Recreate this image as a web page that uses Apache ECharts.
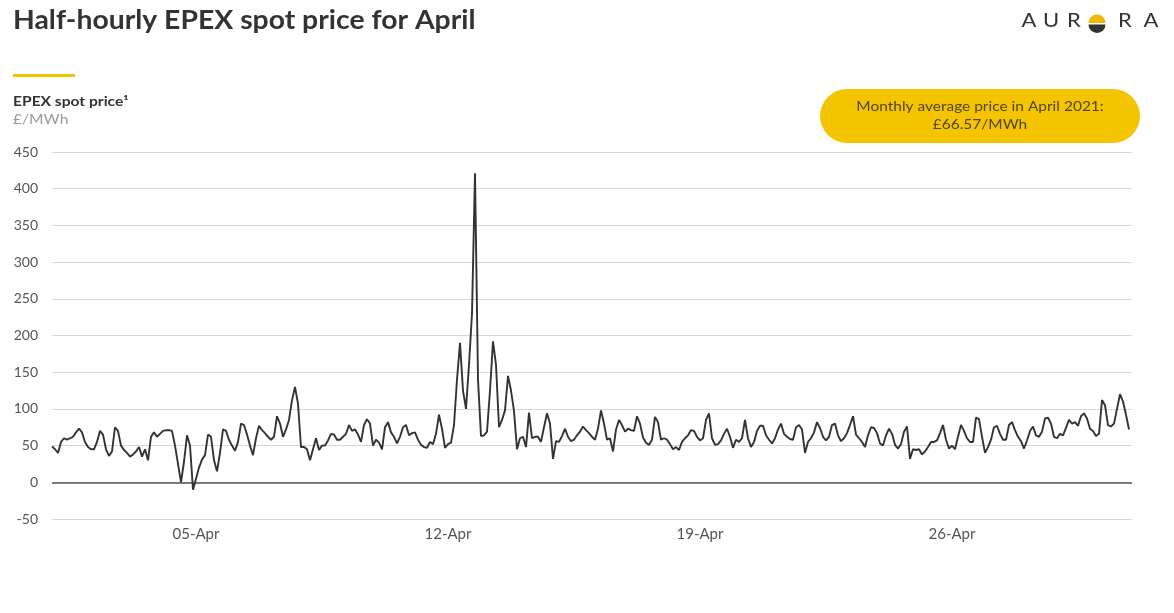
<!DOCTYPE html>
<html>
<head>
<meta charset="utf-8">
<script src="https://cdn.jsdelivr.net/npm/echarts@6/dist/echarts.min.js"></script>
<style>
  html, body { margin: 0; padding: 0; background: #ffffff; }
  #chart { width: 1174px; height: 613px; }
</style>
</head>
<body>
<div id="chart"></div>
<script>
// Half-hourly EPEX spot price, April 2021, sampled every 2 hours (£/MWh).
// x is measured in hours from 1 April 00:00.
const stepHours = 2;
const monthHours = 30 * 24;

// 1–7 April
const week1 = [
  49,45,40,55,60,58,60,62,68,73,68,55,
  48,45,45,55,70,65,45,36,42,75,70,50,
  44,40,35,38,42,48,35,45,30,62,68,62,
  66,70,71,71,70,50,25,0,28,64,50,-10,
  5,20,31,37,65,62,30,15,40,72,70,58,
  50,43,55,80,78,65,50,37,60,77,71,67,
  62,58,62,90,80,62,72,85,112,130,107,48
];
// 8–14 April
const week2 = [
  48,45,30,45,60,44,50,50,57,66,65,58,
  58,62,66,78,70,72,65,55,78,86,80,50,
  58,54,45,75,82,68,62,53,62,75,78,64,
  67,68,58,51,48,47,55,52,66,92,73,47,
  52,54,78,140,190,125,100,160,230,421,140,63,
  64,69,125,192,160,75,85,98,145,125,97,45,
  60,62,48,95,60,62,62,55,75,94,80,32
];
// 15–21 April
const week3 = [
  56,55,63,73,62,56,58,64,69,76,71,67,
  62,58,73,98,80,58,60,42,72,85,78,69,
  73,71,70,90,80,61,54,51,58,89,82,58,
  60,58,52,45,48,44,55,60,64,71,70,62,
  57,60,85,94,60,51,52,57,66,73,62,47,
  58,55,60,85,60,48,55,70,77,77,64,58,
  53,60,72,80,66,62,59,58,75,78,72,40
];
// 22–28 April
const week4 = [
  55,60,68,82,74,62,57,62,78,80,64,56,
  60,67,78,90,65,60,55,48,64,75,74,67,
  53,50,64,73,66,51,46,52,69,76,32,45,
  44,45,38,42,48,55,55,57,67,78,58,46,
  50,45,62,78,70,60,55,55,88,86,62,40,
  48,58,75,77,66,58,58,78,82,71,62,56,
  46,57,70,76,64,62,69,87,88,80,62,60
];
// 29–30 April
const week5 = [
  66,64,74,85,80,82,77,90,94,87,73,70,
  63,66,112,105,78,76,80,100,120,110,92,72
];

const tickDays = [5, 12, 19, 26];
const tickLabels = ['05-Apr', '12-Apr', '19-Apr', '26-Apr'];
const yTicks = { min: -50, max: 450, step: 50 };

const prices = [].concat(week1, week2, week3, week4, week5);
const points = prices.map((v, i) => [i * stepHours, v]);
const tickHours = tickDays.map(d => (d - 1) * 24);

const FONT = 'Lato, "Noto Sans", sans-serif';
const INK = '#333333';
const chart = echarts.init(document.getElementById('chart'), null, { renderer: 'canvas' });

function letter(ch, cx) {
  return { type: 'text', x: cx, y: 21, scaleX: 1.1, style: {
    text: ch, font: '20px ' + FONT, fill: INK, align: 'center', verticalAlign: 'middle' } };
}

chart.setOption({
  backgroundColor: '#ffffff',
  animation: false,
  textStyle: { fontFamily: FONT },
  grid: { left: 52, right: 42, top: 152, bottom: 94, containLabel: false },
  xAxis: {
    type: 'value',
    min: 0,
    max: monthHours,
    axisLine: { show: false },
    axisTick: { show: false },
    splitLine: { show: false },
    axisLabel: {
      customValues: tickHours,
      color: '#555555',
      fontSize: 15,
      fontFamily: FONT,
      margin: 8,
      formatter: v => {
        const k = tickHours.indexOf(v);
        return k >= 0 ? tickLabels[k] : '';
      }
    }
  },
  yAxis: {
    type: 'value',
    min: yTicks.min,
    max: yTicks.max,
    interval: yTicks.step,
    axisLine: { show: false },
    axisTick: { show: false },
    axisLabel: { color: '#555555', fontSize: 14, fontFamily: FONT, margin: 14 },
    splitLine: { lineStyle: { color: '#d6d6d6', width: 1 } }
  },
  series: [{
    type: 'line',
    data: points,
    showSymbol: false,
    lineStyle: { color: INK, width: 1.9 },
    z: 3,
    markLine: {
      silent: true,
      symbol: 'none',
      label: { show: false },
      lineStyle: { color: '#555555', width: 1.6, type: 'solid' },
      data: [{ yAxis: 0 }],
      z: 2
    }
  }],
  graphic: [
    { type: 'text', x: 13, y: 8, scaleX: 1.09,
      style: { text: 'Half-hourly EPEX spot price for April', font: 'bold 26px ' + FONT, fill: INK, verticalAlign: 'top' } },
    { type: 'rect', shape: { x: 13, y: 74, width: 62, height: 3 }, style: { fill: '#F2C500' } },
    { type: 'text', x: 13, y: 95, scaleX: 1.2,
      style: { text: 'EPEX spot price¹', font: 'bold 13px ' + FONT, fill: INK, verticalAlign: 'top' } },
    { type: 'text', x: 13, y: 113, scaleX: 1.2,
      style: { text: '£/MWh', font: '13px ' + FONT, fill: '#9a9a9a', verticalAlign: 'top' } },
    { type: 'rect', shape: { x: 820, y: 89, width: 320, height: 54, r: 27 }, style: { fill: '#F5C400' } },
    { type: 'text', x: 980, y: 116, scaleX: 1.19,
      style: { text: 'Monthly average price in April 2021:\n£66.57/MWh', font: '13px ' + FONT,
        fill: '#4f4520', align: 'center', verticalAlign: 'middle', lineHeight: 18 } },
    // AURORA wordmark
    letter('A', 1029), letter('U', 1051), letter('R', 1074),
    { type: 'sector', shape: { cx: 1097, cy: 23, r: 8.5, r0: 0, startAngle: Math.PI, endAngle: Math.PI * 2 }, style: { fill: '#F2B705' } },
    { type: 'sector', shape: { cx: 1097, cy: 24.5, r: 8.5, r0: 0, startAngle: 0, endAngle: Math.PI }, style: { fill: INK } },
    letter('R', 1125), letter('A', 1151)
  ]
});
</script>
</body>
</html>
